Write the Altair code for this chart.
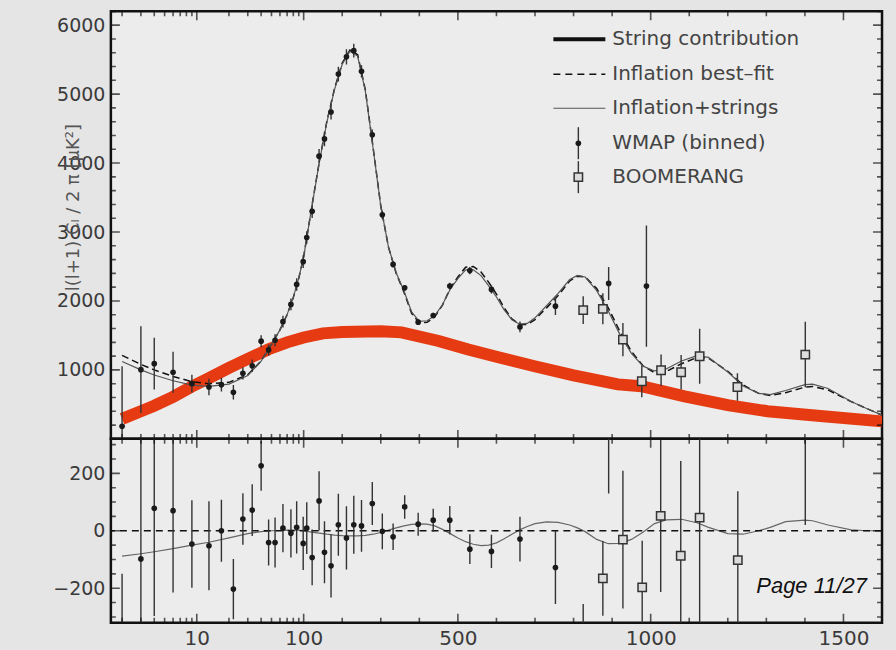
import math
import altair as alt
import pandas as pd

# ---------------- data ----------------
fit_l = [2, 3, 4, 6, 9, 13, 20, 30, 40, 50, 60, 70, 80, 90, 100, 120, 140, 160, 180, 200,
         220, 240, 260, 280, 300, 320, 340, 360, 380, 400, 420, 440, 460, 480, 500, 520, 540,
         560, 580, 600, 620, 640, 660, 680, 700, 730, 760, 790, 810, 830, 860, 890, 920, 950,
         980, 1010, 1040, 1080, 1120, 1150, 1200, 1240, 1280, 1310, 1350, 1400, 1420, 1460,
         1520, 1560, 1600]
fit_d = [1210, 1080, 1000, 905, 830, 800, 820, 930, 1130, 1370, 1580, 1800, 2050, 2330, 2640,
         3330, 4000, 4600, 5080, 5450, 5640, 5570, 5060, 4230, 3380, 2780, 2400, 2130, 1820,
         1680, 1690, 1770, 1940, 2180, 2350, 2490, 2500, 2420, 2270, 2100, 1900, 1740, 1660,
         1660, 1730, 1900, 2080, 2290, 2360, 2350, 2180, 1900, 1560, 1270, 1060, 960, 975,
         1090, 1180, 1170, 980, 780, 660, 630, 670, 750, 760, 710, 540, 440, 345]
mix_l = [2, 3, 4, 6, 9, 13, 20, 30, 40, 50, 60, 70, 80, 90, 100, 120, 140, 160, 180, 200,
         220, 240, 260, 280, 300, 320, 340, 360, 380, 400, 420, 440, 460, 480, 500, 520, 540,
         560, 580, 600, 620, 640, 660, 680, 700, 730, 760, 790, 810, 830, 860, 890, 920, 950,
         980, 1010, 1040, 1080, 1120, 1150, 1200, 1240, 1280, 1310, 1350, 1400, 1420, 1460,
         1520, 1560, 1600]
mix_d = [1122, 1000, 927, 843, 780, 760, 795, 920, 1127, 1370, 1581, 1802, 2052, 2332, 2640,
         3325, 3992, 4588, 5065, 5433, 5622, 5552, 5044, 4218, 3374, 2782, 2410, 2147, 1842,
         1704, 1713, 1787, 1945, 2170, 2325, 2452, 2453, 2368, 2220, 2058, 1872, 1728, 1663,
         1675, 1755, 1931, 2109, 2310, 2370, 2347, 2150, 1855, 1516, 1240, 1055, 985, 1013,
         1130, 1208, 1182, 970, 768, 660, 642, 702, 787, 795, 730, 543, 440, 345]

str_l = [2, 3, 4, 6, 9, 13, 20, 30, 47, 70, 100, 150, 200, 300, 354, 450, 527, 600, 699, 800,
         915, 976, 1088, 1200, 1303, 1433, 1600]
str_d = [290, 400, 480, 610, 760, 880, 1030, 1160, 1300, 1400, 1470, 1530, 1550, 1560, 1545,
         1420, 1295, 1190, 1053, 920, 790, 763, 617, 490, 400, 336, 254]

wmap_l = [2, 3, 4, 6, 9, 13, 17, 22, 27, 33, 40, 47, 54, 64, 76, 86, 99, 108, 122, 140, 154,
          171, 190, 211, 230, 250, 278, 304, 332, 362, 397, 436, 479, 531, 587, 661, 753, 891, 989]
wmap_d = [182, 1004, 1091, 966, 801, 753, 786, 675, 950, 1060, 1417, 1290, 1430, 1700, 1950,
          2240, 2570, 2920, 3300, 4100, 4350, 4740, 5290, 5540, 5630, 5330, 4410, 3250, 2530,
          2190, 1693, 1789, 2216, 2440, 2167, 1624, 1925, 2254, 2216]
wmap_e = [870, 630, 375, 298, 130, 120, 100, 105, 90, 90, 87, 80, 87, 84, 84, 91, 93, 90, 97,
          103, 108, 110, 108, 110, 101, 90, 75, 62, 46, 41, 40, 40, 49, 52, 58, 78, 127, 240, 880]

boom_l = [825, 876, 928, 977, 1027, 1079, 1127, 1225, 1401]
boom_d = [1867, 1886, 1440, 835, 995, 966, 1198, 752, 1222]
boom_e = [200, 225, 240, 230, 230, 250, 400, 200, 475]

res_l = fit_l
res_d = [-88, -80, -73, -62, -50, -40, -25, -10, -3, 0, 1, 2, 2, 2, 0, -5, -8, -12, -15, -17,
         -18, -18, -16, -12, -6, 2, 10, 17, 22, 24, 23, 17, 5, -10, -25, -38, -47, -52, -50,
         -42, -28, -12, 3, 15, 25, 31, 29, 20, 10, -3, -30, -45, -44, -30, -5, 25, 38, 40, 28,
         12, -10, -12, 0, 12, 32, 37, 35, 20, 3, 0, 0]

rw_l = [2, 3, 4, 6, 9, 13, 17, 22, 27, 33, 40, 47, 54, 64, 76, 86, 99, 108, 122, 140, 154,
        171, 190, 211, 230, 250, 278, 304, 332, 362, 397, 436, 479, 531, 587, 661, 753, 891, 989]
rw_d = [-1020, -98, 78, 70, -46, -52, 0, -203, 41, 72, 226, -41, -41, 9, -9, 12, -44, 9, -93,
        104, -75, -122, 21, -25, 21, 17, 95, -2, -21, 83, 23, 37, 37, -64, -72, -29, -128, 370, 1250]
rw_e = [870, 630, 375, 285, 152, 155, 108, 105, 90, 90, 87, 80, 87, 84, 84, 91, 93, 90, 97,
        103, 108, 110, 108, 110, 101, 90, 75, 62, 46, 41, 40, 40, 49, 52, 58, 78, 127, 240, 880]
rb_l = [825, 876, 928, 978, 1026, 1078, 1127, 1226, 1401]
rb_d = [-480, -166, -31, -197, 52, -87, 46, -102, 470]
rb_e = [225, 130, 240, 162, 265, 330, 420, 240, 450]

x_major = [10, 100, 500, 1000, 1500]
x_minor = [2, 3, 4, 5, 6, 7, 8, 9, 20, 30, 40, 50, 60, 70, 80, 90, 200, 300, 400,
           600, 700, 800, 900, 1100, 1200, 1300, 1400]
y_top_major = [0, 1000, 2000, 3000, 4000, 5000, 6000]
y_top_minor = [200, 400, 600, 800, 1200, 1400, 1600, 1800, 2200, 2400, 2600, 2800, 3200, 3400,
               3600, 3800, 4200, 4400, 4600, 4800, 5200, 5400, 5600, 5800, 6200]
y_top_labels = [1000, 2000, 3000, 4000, 5000, 6000]
y_bot_major = [-200, 0, 200]
y_bot_minor = [-300, -250, -150, -100, -50, 50, 100, 150, 250, 300]
y_bot_labels = [-200, 0, 200]

legend_names = ["String contribution", "Inflation best\u2013fit", "Inflation+strings",
                "WMAP (binned)", "BOOMERANG"]

# ---------------- helpers ----------------
FONT = "DejaVu Sans"
W, H1, H2 = 772, 428, 184
K = 277.2  # l<=100 logarithmic, above 100 linear in l
U_EXPR = f"datum.l <= 100 ? {K} * log(datum.l / 100) / LN10 : datum.l - 100"
INV = f"(datum.value <= 0 ? 100 * pow(10, datum.value / {K}) : datum.value + 100)"


def to_u(l):
    return K * math.log10(l / 100) if l <= 100 else l - 100


xs = alt.Scale(domain=[-500, 1500], nice=False, zero=False)
ys_top = alt.Scale(domain=[0, 6200], nice=False, zero=False)
ys_bot = alt.Scale(domain=[-320, 320], nice=False, zero=False)

dummy = pd.DataFrame({"k": [0]})

# label axes (shared by every layer of a panel so that they merge cleanly)
y_top_axis = alt.Axis(values=y_top_labels, format="d", ticks=False, domain=False, grid=False,
                      labelFont=FONT, labelFontSize=19, labelColor="#3a3a3a", labelPadding=6,
                      title="l(l+1) C\u2097 / 2 \u03c0 [\u03bcK\u00b2]", titleFont=FONT,
                      titleFontSize=18, titleFontWeight="normal", titleColor="#555",
                      titleX=-37, titleY=196, titleAngle=270, titleAlign="center",
                      titleBaseline="middle")
y_bot_axis = alt.Axis(values=y_bot_labels, format="d", ticks=False, domain=False, grid=False,
                      labelFont=FONT, labelFontSize=19, labelColor="#3a3a3a", labelPadding=6,
                      title=None)
x_bot_axis = alt.Axis(values=[to_u(l) for l in x_major], ticks=False, domain=False, grid=False,
                      labelFont=FONT, labelFontSize=20, labelColor="#3a3a3a", labelPadding=6,
                      title=None, labelExpr=f"format(round({INV}), 'd')")


class Panel:
    def __init__(self, ys, xaxis, yaxis, H):
        self.ys, self.xa, self.ya, self.H = ys, xaxis, yaxis, H

    def X(self, f="u:Q"):
        return alt.X(f, scale=xs, axis=self.xa)

    def Y(self, f="d:Q"):
        return alt.Y(f, scale=self.ys, axis=self.ya)


def df_of(l, d, e=None):
    if e is None:
        return pd.DataFrame({"l": l, "d": d})
    return pd.DataFrame({"l": l, "d": d, "e": e})


def curve(p, df, **mk):
    return alt.Chart(df).transform_calculate(u=U_EXPR).mark_line(clip=True, **mk).encode(
        x=p.X(), y=p.Y())


def errbars(p, df, color="#333"):
    return alt.Chart(df).transform_calculate(u=U_EXPR, lo="datum.d - datum.e",
                                             hi="datum.d + datum.e").mark_rule(
        clip=True, color=color, strokeWidth=1.4).encode(x=p.X(), y=p.Y("lo:Q"), y2="hi:Q")


def dots(p, df):
    return alt.Chart(df).transform_calculate(u=U_EXPR).mark_point(
        clip=True, filled=True, shape="circle", size=32, color="#1a1a1a", opacity=1).encode(
        x=p.X(), y=p.Y())


def squares(p, df):
    return alt.Chart(df).transform_calculate(u=U_EXPR).mark_point(
        clip=True, shape="square", size=70, filled=True, fill="#dcdcdc", stroke="#333",
        strokeWidth=1.5, opacity=1).encode(x=p.X(), y=p.Y())


def xticks(p, values, length, ypos):
    return alt.Chart(pd.DataFrame({"l": values})).transform_calculate(u=U_EXPR).mark_tick(
        clip=True, orient="vertical", color="#111", thickness=1.6, size=2 * length).encode(
        x=p.X(), y=alt.value(ypos))


def yticks(p, values, length, xpos):
    return alt.Chart(pd.DataFrame({"d": values})).mark_tick(
        clip=True, orient="horizontal", color="#111", thickness=1.6, size=2 * length).encode(
        y=p.Y(), x=alt.value(xpos))


def tick_layers(p, y_major, y_minor):
    return [
        xticks(p, x_major, 9, 0), xticks(p, x_minor, 5, 0),
        xticks(p, x_major, 9, p.H), xticks(p, x_minor, 5, p.H),
        yticks(p, y_major, 9, 0), yticks(p, y_minor, 5, 0),
        yticks(p, y_major, 9, W), yticks(p, y_minor, 5, W),
    ]


def lg_rule(**kw):
    mk = {k: v for k, v in kw.items() if k not in ("x", "x2", "y", "y2")}
    enc = {k: alt.value(v) for k, v in kw.items() if k in ("x", "x2", "y", "y2")}
    return alt.Chart(dummy).mark_rule(**mk).encode(**enc)


def lg_text(x, y, txt):
    return alt.Chart(dummy).mark_text(align="left", baseline="middle", font=FONT, fontSize=20,
                                      color="#444").encode(
        x=alt.value(x), y=alt.value(y), text=alt.value(txt))


# ---------------- top panel ----------------
pt = Panel(ys_top, None, y_top_axis, H1)
top_layers = [
    curve(pt, df_of(str_l, str_d), color="#e63b12", strokeWidth=12, strokeCap="butt"),
    curve(pt, df_of(fit_l, fit_d), color="#111", strokeWidth=1.5, strokeDash=[7, 4]),
    curve(pt, df_of(mix_l, mix_d), color="#555", strokeWidth=1.2),
    errbars(pt, df_of(wmap_l, wmap_d, wmap_e)),
    dots(pt, df_of(wmap_l, wmap_d)),
    errbars(pt, df_of(boom_l, boom_d, boom_e)),
    squares(pt, df_of(boom_l, boom_d)),
    lg_rule(x=443, x2=495, y=28, color="#111", strokeWidth=4),
    lg_rule(x=443, x2=495, y=63, color="#111", strokeWidth=1.5, strokeDash=[7, 5]),
    lg_rule(x=443, x2=495, y=97, color="#555", strokeWidth=1.2),
    lg_rule(x=468, y=116, y2=148, color="#333", strokeWidth=1.4),
    alt.Chart(dummy).mark_point(filled=True, shape="circle", size=32, color="#1a1a1a",
                                opacity=1).encode(x=alt.value(468), y=alt.value(132)),
    lg_rule(x=468, y=150, y2=182, color="#333", strokeWidth=1.4),
    alt.Chart(dummy).mark_point(shape="square", size=70, filled=True, fill="#dcdcdc",
                                stroke="#333", strokeWidth=1.5, opacity=1).encode(
        x=alt.value(468), y=alt.value(166)),
]
for name, yy in zip(legend_names, [28, 63, 97, 132, 166]):
    top_layers.append(lg_text(502, yy, name))
top_layers += tick_layers(pt, y_top_major, y_top_minor)
top = alt.layer(*top_layers).properties(width=W, height=H1)

# ---------------- bottom panel ----------------
pb = Panel(ys_bot, x_bot_axis, y_bot_axis, H2)
bot_layers = [
    curve(pb, df_of(res_l, res_d), color="#666", strokeWidth=1.2),
    alt.Chart(dummy).mark_rule(color="#111", strokeWidth=1.3, strokeDash=[7, 5]).encode(
        y=alt.YDatum(0, scale=ys_bot, axis=y_bot_axis)),
    errbars(pb, df_of(rw_l, rw_d, rw_e)),
    dots(pb, df_of(rw_l, rw_d)),
    errbars(pb, df_of(rb_l, rb_d, rb_e)),
    squares(pb, df_of(rb_l, rb_d)),
    alt.Chart(dummy).mark_text(font="Liberation Sans", fontStyle="italic", fontSize=22,
                               align="right", baseline="middle", color="#111").encode(
        x=alt.value(757), y=alt.value(147), text=alt.value("Page 11/27")),
]
bot_layers += tick_layers(pb, y_bot_major, y_bot_minor)
bot = alt.layer(*bot_layers).properties(width=W, height=H2)

chart = alt.vconcat(top, bot, spacing=0, bounds="flush").properties(
    padding={"left": 51, "top": 9, "right": 12, "bottom": 0},
    background="#e5e5e5",
).configure_view(stroke="#111", strokeWidth=2.5, fill="#ececec").configure_axis(grid=False)

chart.save("out.html", embed_options={"renderer": "svg", "actions": False})
